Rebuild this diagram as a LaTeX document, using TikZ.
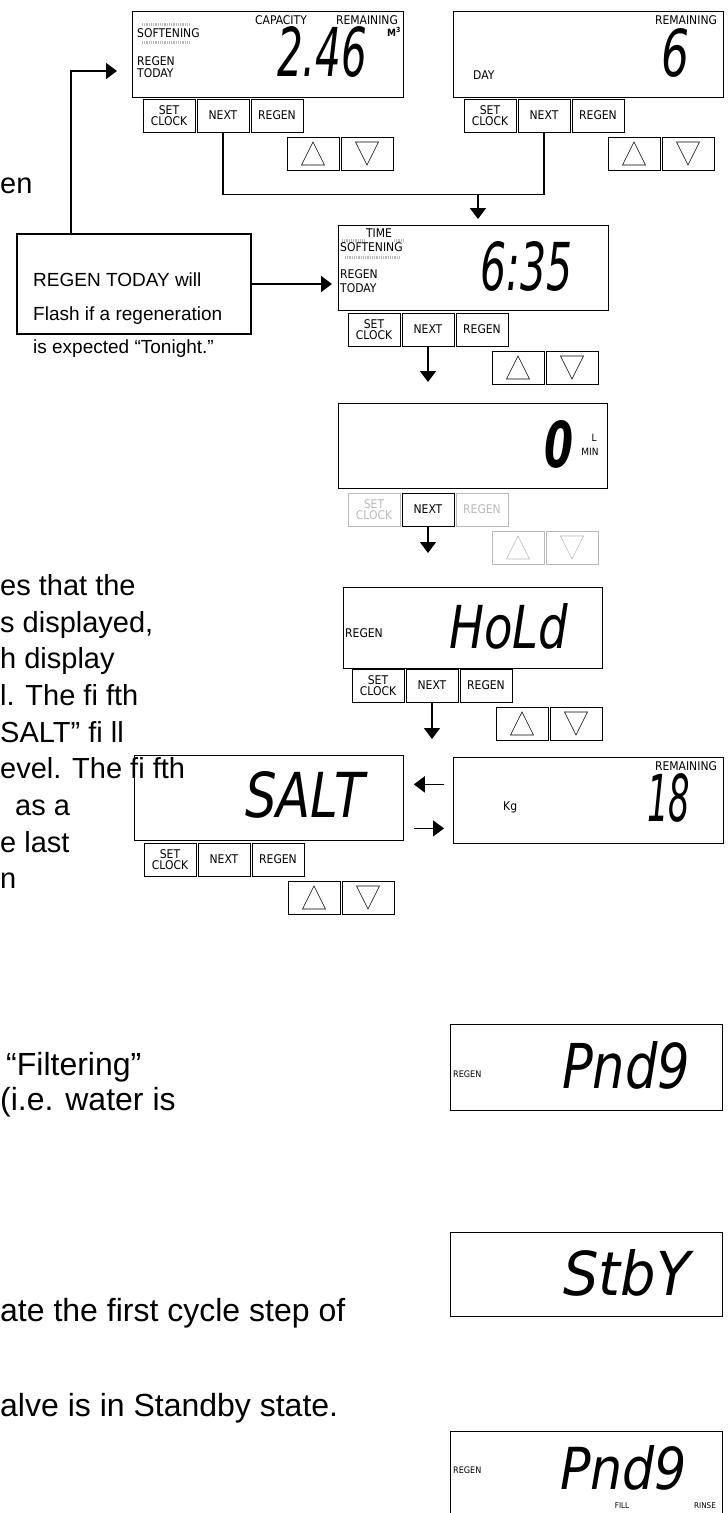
\documentclass[tikz,border=0pt]{standalone}
\usepackage{fontspec}
\setmainfont{Liberation Sans}
\newfontfamily\lcdfont{DejaVu Sans Condensed}
\usetikzlibrary{arrows.meta,positioning,calc}
\newcommand{\segs}[3]{\resizebox{#1pt}{#2pt}{\lcdfont\itshape #3}}
\tikzset{
    screen/.style={draw, line width=0.8pt, inner sep=0pt, anchor=north west,
        minimum width=270pt, minimum height=86pt},
    key/.style={draw, line width=0.7pt, inner sep=0pt, minimum width=52pt,
        minimum height=33pt, align=center, font=\lcdfont\fontsize{12}{11}\selectfont},
    tag/.style={inner sep=0pt, font=\lcdfont\fontsize{12}{12}\selectfont},
    smalltag/.style={inner sep=0pt, font=\lcdfont\fontsize{9}{9}\selectfont},
    digits/.style={inner sep=0pt, anchor=south west},
    flow/.style={draw, line width=1.6pt, -{Triangle[length=11pt,width=16pt]}},
    link/.style={draw, line width=1.5pt},
    body/.style={inner sep=0pt, anchor=base west, font=\fontsize{29}{36}\selectfont},
    bigbody/.style={body, font=\fontsize{32}{38}\selectfont},
    notetext/.style={inner sep=0pt, anchor=base west, font=\fontsize{19}{33}\selectfont},
    hatch/.style={draw=gray!55, line width=3pt, dash pattern=on 0.5pt off 1.3pt},
    pics/buttons/.style={code={
        \node[key, draw=#1, text=#1] (-set) at (26,16.5) {SET\\CLOCK};
        \node[key] (-next) at (80,16.5) {NEXT};
        \node[key, draw=#1, text=#1] (-regen) at (134,16.5) {REGEN};
        \node[key, draw=#1] (-up) at (170,54.5) {};
        \node[key, draw=#1] (-dn) at (224,54.5) {};
        \draw[#1, line width=0.6pt] (158.5,66) -- (170,43) -- (181.5,66) -- cycle;
        \draw[#1, line width=0.6pt] (212.5,43) -- (224,66) -- (235.5,43) -- cycle;
    }},
    pics/buttons/.default=black
}

\begin{document}
\begin{tikzpicture}[x=1pt, y=-1pt]
    \useasboundingbox (0,0) rectangle (728,1513);

    % Displays
    \node[screen, minimum width=271pt] (dcap) at (132,11) {};
    \node[screen] (dday) at (453,11) {};
    \node[screen, minimum height=85pt] (dtime) at (338,225) {};
    \node[screen, minimum width=269pt, minimum height=85pt] (drate) at (338,403) {};
    \node[screen, minimum width=259pt, minimum height=81pt] (dhold) at (343,587) {};
    \node[screen] (dkg) at (453,757) {};
    \node[screen, minimum width=269pt, minimum height=85pt] (dsalt) at (134,755) {};
    \node[screen, minimum width=272pt] (dpend) at (450,1024) {};
    \node[screen, minimum width=272pt, minimum height=84pt] (dstby) at (450,1232) {};
    \node[screen, minimum width=272pt, minimum height=100pt] (dfill) at (450,1431) {};

    % Buttons
    \pic (dcap) at (143,99) {buttons};
    \pic (dday) at (464,99) {buttons};
    \pic (dtime) at (348,313) {buttons};
    \pic (drate) at (348,493) {buttons=gray!55};
    \pic (dhold) at (352,669) {buttons};
    \pic (dsalt) at (144,843) {buttons};

    % Display texts
    \draw[hatch] (142,24) -- (190,24);
    \draw[hatch] (142,42) -- (190,42);
    \node[tag, anchor=west] (capsoft) at (137,33) {SOFTENING};
    \node[tag, anchor=west] (capregen) at (137,61) {REGEN};
    \node[tag, anchor=west] (captoday) at (137,73) {TODAY};
    \node[tag] (capcap) at (281,20) {CAPACITY};
    \node[tag] (caprem) at (367,20) {REMAINING};
    \node[tag, font=\lcdfont\bfseries\fontsize{10}{10}\selectfont] (capunit) at (394,32) {M\textsuperscript{3}};
    \node[digits] (capval) at (277,78) {\segs{90}{50}{2.46}};

    \node[tag] (dayrem) at (686,20) {REMAINING};
    \node[tag, anchor=west] (dayday) at (473,75) {DAY};
    \node[digits] (dayval) at (661,78) {\segs{28}{48}{6}};

    \draw[hatch] (342,240) -- (364,240);
    \draw[hatch] (394,240) -- (404,240);
    \draw[hatch] (345,257) -- (400,257);
    \node[tag] (timetime) at (379,233) {TIME};
    \node[tag, anchor=west] (timesoft) at (340,247) {SOFTENING};
    \node[tag, anchor=west] (timeregen) at (340,274) {REGEN};
    \node[tag, anchor=west] (timetoday) at (340,288) {TODAY};
    \node[digits] (timeval) at (480,292) {\segs{92}{49}{6:35}};

    \node[digits] (rateval) at (544,469) {\resizebox{29pt}{47pt}{\lcdfont\bfseries\itshape 0}};
    \node[smalltag, font=\lcdfont\fontsize{10}{10}\selectfont] (ratel) at (594,438) {L};
    \node[smalltag, font=\lcdfont\fontsize{10}{10}\selectfont] (ratemin) at (590,452) {MIN};

    \node[tag, anchor=west] (holdregen) at (345,633) {REGEN};
    \node[digits] (holdval) at (449,650) {\segs{119}{45}{HoLd}};

    \node[tag] (kgrem) at (686,766) {REMAINING};
    \node[tag, anchor=west] (kgkg) at (503,807) {Kg};
    \node[digits] (kgval) at (647,823) {\segs{43}{48}{18}};

    \node[digits] (saltval) at (245,819) {\segs{120}{46}{SALT}};

    \node[smalltag, anchor=west] (pendregen) at (453,1074) {REGEN};
    \node[digits] (pendval) at (562,1090) {\segs{128}{47}{Pnd9}};

    \node[digits] (stbyval) at (563,1297) {\segs{127}{46}{StbY}};

    \node[smalltag, anchor=west] (fillregen) at (453,1470) {REGEN};
    \node[digits] (fillval) at (560,1491) {\segs{127}{44}{Pnd9}};
    \node[smalltag, font=\lcdfont\fontsize{8}{8}\selectfont] (fillfill) at (622,1506) {FILL};
    \node[smalltag, font=\lcdfont\fontsize{8}{8}\selectfont] (fillrinse) at (705,1506) {RINSE};

    % Note box
    \node[draw, line width=2pt, anchor=north west, minimum width=234pt,
        minimum height=100pt, inner sep=0pt] (note) at (16,233) {};
    \node[notetext] (note1) at (33,286) {REGEN TODAY will};
    \node[notetext] (note2) at (33,320) {Flash if a regeneration};
    \node[notetext] (note3) at (33,353) {is expected “Tonight.”};

    % Side text
    \node[body] (t0) at (0,193) {en};
    \node[body] (t1) at (0,595) {es that the};
    \node[body] (t2) at (0,632) {s displayed,};
    \node[body] (t3) at (0,668) {h display};
    \node[body] (t4) at (0,705) {l. The fi fth};
    \node[body] (t5) at (0,742) {SALT” fi ll};
    \node[body] (t6) at (0,778) {evel. The fi fth};
    \node[body] (t7) at (15,815) {as a};
    \node[body] (t8) at (0,852) {e last};
    \node[body] (t9) at (0,888) {n};
    \node[bigbody] (t10) at (6,1075) {“Filtering”};
    \node[bigbody] (t11) at (0,1110) {(i.e. water is};
    \node[bigbody] (t12) at (0,1321) {ate the first cycle step of};
    \node[bigbody] (t13) at (0,1416) {alve is in Standby state.};

    % Connectors
    \draw[link] (dcap-next.south) -- ++(0,62) -| (dday-next.south);
    \coordinate (join) at (478,195);
    \draw[flow, shorten >=6pt] (join) -- (join |- dtime.north);
    \draw[flow, shorten >=15pt] (note.north -| 71,0) |- (dcap.west |- 0,71);
    \draw[flow, shorten >=6pt] (note.east) -- (note.east -| dtime.west);
    \draw[flow, shorten >=21pt] (dtime-next.south) -- (dtime-next.south |- drate.north);
    \draw[flow, shorten >=34pt] (drate-next.south) -- (drate-next.south |- dhold.north);
    \draw[flow, shorten >=18pt] (dhold-next.south) -- (dhold-next.south |- dkg.north);
    \draw[flow, shorten >=10pt] ([xshift=-9pt, yshift=16pt]dkg.west) -- ([yshift=16pt]dkg.west -| dsalt.east);
    \draw[flow, shorten >=9pt] ([xshift=10pt, yshift=-30.5pt]dsalt.east) -- ([yshift=-30.5pt]dsalt.east -| dkg.west);
\end{tikzpicture}
\end{document}
